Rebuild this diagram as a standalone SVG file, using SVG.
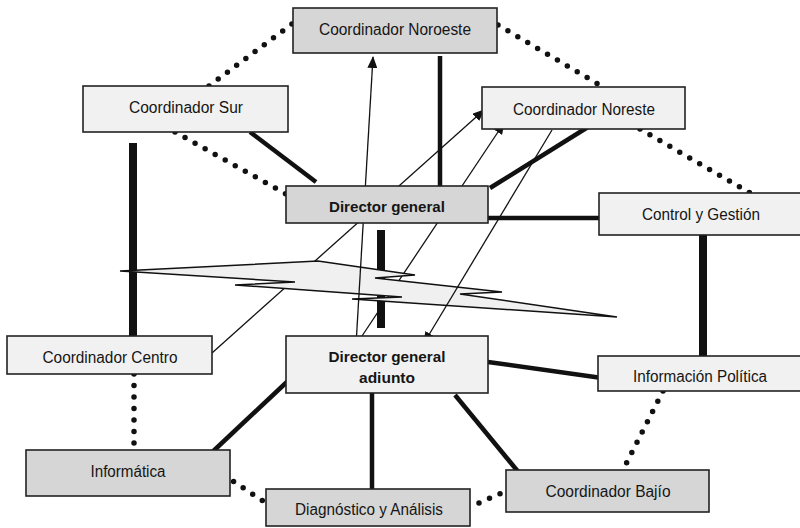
<svg xmlns="http://www.w3.org/2000/svg" width="800" height="528" viewBox="0 0 800 528">
  <defs>
    <marker id="arrow" viewBox="0 0 12 10" refX="11" refY="5" markerWidth="12" markerHeight="10" markerUnits="userSpaceOnUse" orient="auto">
      <path d="M0,0 L12,5 L0,10 Z" fill="#111"/>
    </marker>
    <style>
      .box { stroke: #222; stroke-width: 1.6; }
      .dark { fill: #d6d6d6; }
      .light { fill: #f1f1f1; }
      .label { font-family: "Liberation Sans", Arial, sans-serif; font-size: 16px; fill: #151515; text-anchor: middle; }
      .bold { font-weight: bold; font-size: 15.5px; }
      .dots { stroke: #111; stroke-width: 5.5; stroke-linecap: round; stroke-dasharray: 0 11.5; fill: none; }
      .thick { stroke: #111; stroke-width: 4.5; fill: none; }
      .heavy { stroke: #111; stroke-width: 8; fill: none; }
      .thin { stroke: #111; stroke-width: 1.3; fill: none; }
      .bolt { fill: #f0f0f0; stroke: #111; stroke-width: 1.5; stroke-linejoin: miter; }
    </style>
  </defs>

  <rect width="800" height="528" fill="#ffffff"/>

  <!-- connectors -->
  <g id="connectors">
    <!-- dotted links -->
    <line class="dots" x1="209" y1="86" x2="292" y2="24"/>
    <line class="dots" x1="498" y1="25" x2="603" y2="87"/>
    <line class="dots" x1="175" y1="132" x2="286" y2="194"/>
    <line class="dots" x1="640" y1="129" x2="750" y2="193"/>
    <line class="dots" x1="134" y1="374" x2="134" y2="450"/>
    <line class="dots" x1="224" y1="475" x2="266" y2="503"/>
    <line class="dots" x1="479" y1="503" x2="506" y2="491"/>
    <line class="dots" x1="663" y1="391" x2="623" y2="470"/>

    <!-- solid links -->
    <line class="thick" x1="250" y1="132" x2="316" y2="182"/>
    <line class="thick" x1="440" y1="56" x2="440" y2="186"/>
    <line class="thick" x1="588" y1="127" x2="490" y2="188"/>
    <line class="thick" x1="488" y1="218" x2="600" y2="218"/>
    <line class="heavy" x1="703" y1="235" x2="703" y2="362"/>
    <line class="heavy" x1="133" y1="143" x2="133" y2="336"/>
    <line class="heavy" x1="381" y1="230" x2="381" y2="328"/>
    <line class="thick" x1="488" y1="362" x2="602" y2="378"/>
    <line class="thick" x1="290" y1="379" x2="207" y2="457"/>
    <line class="thick" x1="372" y1="393" x2="372" y2="489"/>
    <line class="thick" x1="455" y1="395" x2="520" y2="474"/>

    <!-- thin arrows -->
    <line class="thin" x1="212" y1="353" x2="484" y2="110" marker-end="url(#arrow)"/>
    <line class="thin" x1="356" y1="345" x2="504" y2="123" marker-end="url(#arrow)"/>

    <!-- lightning bolt -->
    <path class="bolt" d="M120,271 L318,261 L415,275 L375,278 L502,292 L460,294 L617,317 L352,299 L402,297 L235,285 L295,282 Z"/>

    <line class="thin" x1="356" y1="345" x2="373" y2="57" marker-end="url(#arrow)"/>
    <line class="thin" x1="552" y1="130" x2="424" y2="343" marker-end="url(#arrow)"/>
  </g>

  <!-- nodes -->
  <g id="coord-noroeste">
    <rect class="box dark" x="293" y="8" width="204" height="45"/>
    <text class="label" x="395" y="35" textLength="152" lengthAdjust="spacingAndGlyphs">Coordinador Noroeste</text>
  </g>
  <g id="coord-sur">
    <rect class="box light" x="83" y="86" width="205" height="46"/>
    <text class="label" x="186" y="113" textLength="114" lengthAdjust="spacingAndGlyphs">Coordinador Sur</text>
  </g>
  <g id="coord-noreste">
    <rect class="box light" x="482" y="87" width="203" height="42"/>
    <text class="label" x="584" y="115" textLength="142" lengthAdjust="spacingAndGlyphs">Coordinador Noreste</text>
  </g>
  <g id="director-general">
    <rect class="box dark" x="286" y="186" width="202" height="37"/>
    <text class="label bold" x="387" y="212" textLength="116" lengthAdjust="spacingAndGlyphs">Director general</text>
  </g>
  <g id="control-gestion">
    <rect class="box light" x="599" y="193" width="204" height="42"/>
    <text class="label" x="701" y="220" textLength="118" lengthAdjust="spacingAndGlyphs">Control y Gestión</text>
  </g>
  <g id="coord-centro">
    <rect class="box light" x="7" y="336" width="205" height="38"/>
    <text class="label" x="110" y="363" textLength="135" lengthAdjust="spacingAndGlyphs">Coordinador Centro</text>
  </g>
  <g id="director-adjunto">
    <rect class="box light" x="286" y="336" width="202" height="57"/>
    <text class="label bold" x="387" y="362" textLength="117" lengthAdjust="spacingAndGlyphs">Director general</text>
    <text class="label bold" x="387" y="383" textLength="56" lengthAdjust="spacingAndGlyphs">adiunto</text>
  </g>
  <g id="informacion-politica">
    <rect class="box light" x="598" y="356" width="205" height="35"/>
    <text class="label" x="700" y="382" textLength="134" lengthAdjust="spacingAndGlyphs">Información Política</text>
  </g>
  <g id="informatica">
    <rect class="box dark" x="26" y="450" width="204" height="46"/>
    <text class="label" x="128" y="477" textLength="75" lengthAdjust="spacingAndGlyphs">Informática</text>
  </g>
  <g id="diagnostico">
    <rect class="box dark" x="266" y="489" width="204" height="37"/>
    <text class="label" x="369" y="515" textLength="148" lengthAdjust="spacingAndGlyphs">Diagnóstico y Análisis</text>
  </g>
  <g id="coord-bajio">
    <rect class="box dark" x="506" y="470" width="203" height="42"/>
    <text class="label" x="608" y="497" textLength="125" lengthAdjust="spacingAndGlyphs">Coordinador Bajío</text>
  </g>
</svg>
